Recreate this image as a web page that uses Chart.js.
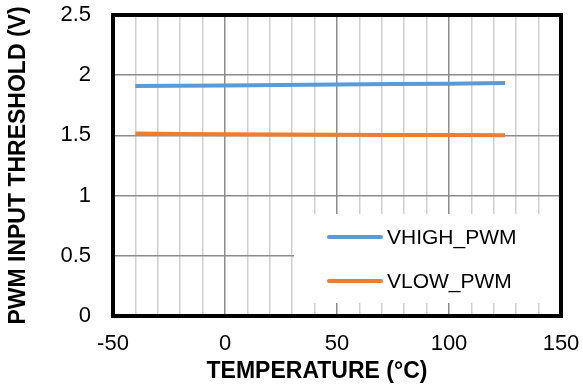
<!DOCTYPE html>
<html>
<head>
<meta charset="utf-8">
<script src="https://cdn.jsdelivr.net/npm/chart.js@4/dist/chart.umd.min.js"></script>
<style>
  html, body { margin: 0; padding: 0; background: #fff; }
  #wrap { width: 583px; height: 385px; position: relative; }
</style>
</head>
<body>
<div id="wrap"><canvas id="chart"></canvas></div>
<script>
const temps = [-40, -20, 0, 25, 50, 75, 100, 125];
const vHigh = [1.910, 1.912, 1.915, 1.918, 1.922, 1.926, 1.930, 1.935];
const vLow = [1.515, 1.512, 1.509, 1.507, 1.505, 1.504, 1.503, 1.501];
const seriesNames = ["VHIGH_PWM", "VLOW_PWM"];
const seriesColors = ["#5B9BD5", "#ED7D31"];
const xTitle = "TEMPERATURE (°C)";
const yTitle = "PWM INPUT THRESHOLD (V)";

const font = "'Liberation Sans', Arial, sans-serif";

function toPoints(vals) {
  return temps.map((t, i) => ({ x: t, y: vals[i] }));
}

// legend box sitting inside the plot, bottom right + frame + x title
const boxLegend = {
  id: "boxLegend",
  afterDatasetsDraw(chart) {
    const ctx = chart.ctx;
    const a = chart.chartArea;
    ctx.save();
    ctx.fillStyle = "#fff";
    ctx.fillRect(294, 214, a.right - 294, 89);
    ctx.font = "21px " + font;
    ctx.textBaseline = "middle";
    chart.data.datasets.forEach((ds, i) => {
      const y = 237 + i * 44;
      ctx.strokeStyle = ds.borderColor;
      ctx.lineWidth = 4;
      ctx.lineCap = "round";
      ctx.beginPath();
      ctx.moveTo(329, y);
      ctx.lineTo(381, y);
      ctx.stroke();
      ctx.fillStyle = "#000";
      ctx.fillText(ds.label, 387, y + 1);
    });
    ctx.restore();
  },
  afterDraw(chart) {
    const ctx = chart.ctx;
    const a = chart.chartArea;
    ctx.save();
    ctx.strokeStyle = "#000";
    ctx.lineWidth = 4;
    ctx.strokeRect(a.left, a.top, a.right - a.left, a.bottom - a.top);
    ctx.fillStyle = "#000";
    ctx.font = "bold 23px " + font;
    ctx.textAlign = "center";
    ctx.textBaseline = "middle";
    ctx.fillText(xTitle, 317, 372);
    ctx.restore();
  }
};

new Chart(document.getElementById("chart"), {
  type: "line",
  data: {
    datasets: [
      { label: seriesNames[0], data: toPoints(vHigh), borderColor: seriesColors[0], borderWidth: 4, pointRadius: 0, tension: 0 },
      { label: seriesNames[1], data: toPoints(vLow), borderColor: seriesColors[1], borderWidth: 4, pointRadius: 0, tension: 0 }
    ]
  },
  options: {
    responsive: true,
    maintainAspectRatio: false,
    animation: false,
    layout: { padding: { left: 0, right: 22, top: 15, bottom: 0 } },
    plugins: { legend: { display: false }, tooltip: { enabled: false } },
    scales: {
      x: {
        type: "linear",
        min: -50,
        max: 150,
        afterFit(s) { s.height = 69; },
        ticks: {
          stepSize: 10,
          autoSkip: false,
          maxRotation: 0,
          padding: 0,
          color: "#000",
          font: { family: font, size: 22 },
          callback: (v) => (v % 50 === 0 ? v : "")
        },
        grid: {
          tickLength: 15,
          tickColor: "rgba(0,0,0,0)",
          color: (c) => (c.tick && c.tick.value % 50 === 0 ? "#8c8c8c" : "#d0d0d0"),
          lineWidth: 1.5
        },
        border: { display: false },
        title: { display: false }
      },
      y: {
        min: 0,
        max: 2.5,
        afterFit(s) { s.width = 113; },
        ticks: {
          stepSize: 0.5,
          padding: 0,
          color: "#000",
          font: { family: font, size: 22 },
          callback: (v) => String(Math.round(v * 10) / 10)
        },
        grid: { tickLength: 22, tickColor: "rgba(0,0,0,0)", color: "#8c8c8c", lineWidth: 1.5 },
        border: { display: false },
        title: {
          display: true,
          text: yTitle,
          color: "#000",
          font: { family: font, size: 23, weight: "bold" },
          padding: { top: 5, bottom: 0 }
        }
      }
    }
  },
  plugins: [boxLegend]
});
</script>
</body>
</html>
